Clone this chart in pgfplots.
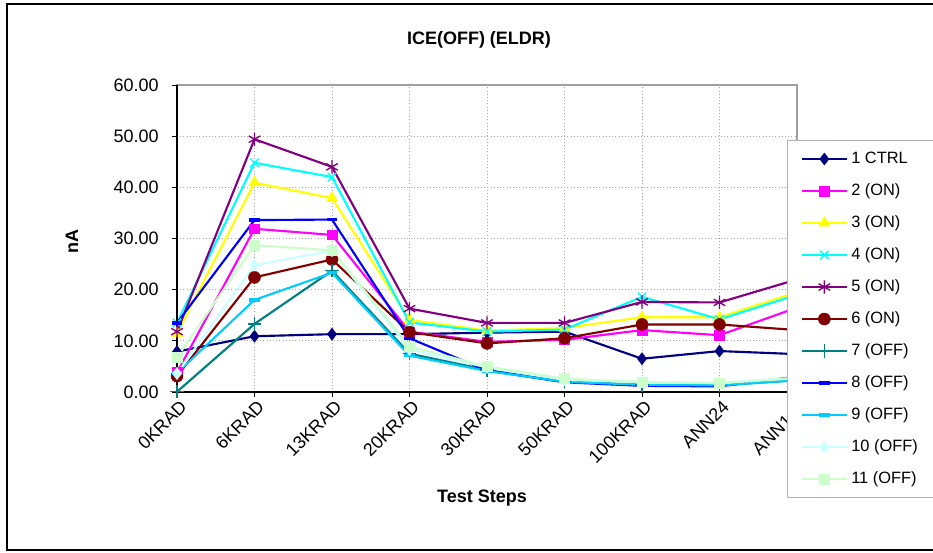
\documentclass[border=0pt]{standalone}
\usepackage{fontspec}
\setmainfont{Liberation Sans}
\usepackage{pgfplots}
\pgfplotsset{compat=1.18}

\definecolor{c1}{HTML}{000080}
\definecolor{c2}{HTML}{FF00FF}
\definecolor{c3}{HTML}{FFFF00}
\definecolor{c4}{HTML}{00FFFF}
\definecolor{c5}{HTML}{800080}
\definecolor{c6}{HTML}{800000}
\definecolor{c7}{HTML}{008080}
\definecolor{c8}{HTML}{0000FF}
\definecolor{c9}{HTML}{00CCFF}
\definecolor{c10}{HTML}{CCFFFF}
\definecolor{c11}{HTML}{CCFFCC}

\begin{document}
\begin{tikzpicture}[x=1pt,y=1pt]
\useasboundingbox (0,0) rectangle (699.75,414.75);
\fill[white] (0,0) rectangle (699.75,414.75);
\draw[line width=1.5pt] (5.25,1.9) rectangle (710,412.1);
\begin{axis}[
  at={(132.75pt,120.75pt)}, anchor=south west,
  scale only axis, width=465pt, height=230.25pt,
  xmin=0, xmax=8, ymin=0, ymax=60,
  xtick={0,...,8},
  xticklabels={0KRAD,6KRAD,13KRAD,20KRAD,30KRAD,50KRAD,100KRAD,ANN24,ANN168},
  ytick={0,10,...,60},
  clip=false,
  axis line style={draw=gray!75, line width=1.2pt},
  tick align=outside, tick pos=left,
  major tick length=3.75pt,
  tick style={black, line width=0.6pt},
  grid=major,
  major grid style={gray!70, dotted, line width=0.6pt},
  ticklabel style={font=\fontsize{13.5}{16}\selectfont},
  xticklabel style={rotate=45, anchor=north east, inner sep=1pt, xshift=1pt, yshift=-1pt},
  yticklabel style={xshift=-6.5pt, /pgf/number format/.cd, fixed, fixed zerofill, precision=2, assume math mode=true},
  every axis plot/.append style={line width=1.6pt},
  legend cell align=left,
  legend style={at={(0.984,0.821)}, anchor=north west, draw=gray!60, line width=0.6pt, fill=white,
    font=\fontsize{12.3}{14}\selectfont, row sep=10pt, inner xsep=10pt, inner ysep=7pt,
    nodes={text height=9pt, text depth=3pt, inner ysep=1pt, inner xsep=2.5pt}},
  legend image code/.code={\draw[mark repeat=2, mark phase=2] plot coordinates {(0pt,0pt) (16.875pt,0pt) (33.75pt,0pt)};},
]
\addplot[color=c1, mark=diamond*, mark size=4.5pt, mark options={fill=c1, line width=0.4pt}] coordinates {(0,7.9) (1,10.9) (2,11.3) (3,11.3) (4,11.6) (5,11.8) (6,6.5) (7,8.0) (8,7.4)};
\addlegendentry{1 CTRL}
\addplot[color=c2, mark=square*, mark size=3.6pt, mark options={fill=c2, line width=0.4pt}] coordinates {(0,3.8) (1,31.9) (2,30.7) (3,11.8) (4,9.8) (5,10.2) (6,12.1) (7,11.1) (8,16.5)};
\addlegendentry{2 (ON)}
\addplot[color=c3, mark=triangle*, mark size=4.8pt, mark options={fill=c3, line width=0.4pt}] coordinates {(0,11.5) (1,40.9) (2,37.9) (3,14.1) (4,12.0) (5,12.5) (6,14.6) (7,14.6) (8,19.5)};
\addlegendentry{3 (ON)}
\addplot[color=c4, mark=x, mark size=4.5pt, mark options={line width=1pt}] coordinates {(0,13.5) (1,44.8) (2,42.0) (3,13.6) (4,11.8) (5,12.2) (6,18.6) (7,14.2) (8,19.0)};
\addlegendentry{4 (ON)}
\addplot[color=c5, mark=asterisk, mark size=5pt, mark options={line width=1pt}] coordinates {(0,11.8) (1,49.4) (2,44.0) (3,16.3) (4,13.5) (5,13.5) (6,17.6) (7,17.5) (8,22.0)};
\addlegendentry{5 (ON)}
\addplot[color=c6, mark=*, mark size=4.5pt, mark options={fill=c6, line width=0.4pt}] coordinates {(0,3.1) (1,22.4) (2,25.9) (3,11.7) (4,9.5) (5,10.5) (6,13.2) (7,13.2) (8,12.1)};
\addlegendentry{6 (ON)}
\addplot[color=c7, mark=+, mark size=5pt, mark options={line width=1pt}] coordinates {(0,0.05) (1,13.3) (2,23.7) (3,7.5) (4,4.3) (5,2.0) (6,1.4) (7,1.3) (8,2.3)};
\addlegendentry{7 (OFF)}
\addplot[color=c8, mark=-, mark size=4pt, mark options={line width=2.5pt}] coordinates {(0,13.5) (1,33.6) (2,33.7) (3,10.5) (4,4.2) (5,1.9) (6,1.2) (7,1.1) (8,3.0)};
\addlegendentry{8 (OFF)}
\addplot[color=c9, mark=-, mark size=4pt, mark options={line width=2.5pt}] coordinates {(0,3.7) (1,18.0) (2,23.3) (3,7.1) (4,4.1) (5,2.0) (6,1.4) (7,1.3) (8,2.3)};
\addlegendentry{9 (OFF)}
\addplot[color=c10, mark=diamond*, mark size=4.5pt, mark options={fill=c10, line width=0.4pt}] coordinates {(0,3.6) (1,24.8) (2,27.6) (3,8.3) (4,4.8) (5,2.4) (6,2.0) (7,1.8) (8,2.8)};
\addlegendentry{10 (OFF)}
\addplot[color=c11, mark=square*, mark size=3.8pt, mark options={fill=c11, line width=0.4pt}] coordinates {(0,6.8) (1,28.7) (2,27.7) (3,8.9) (4,5.0) (5,2.6) (6,1.9) (7,1.7) (8,2.7)};
\addlegendentry{11 (OFF)}
\draw[black, line width=1pt] (rel axis cs:0,1) -- (rel axis cs:0,0) -- (rel axis cs:1,0);
\end{axis}
\node[font=\bfseries\fontsize{13.5}{16}\selectfont] at (359.25,384.75) {ICE(OFF) (ELDR)};
\node[font=\bfseries\fontsize{13.5}{16}\selectfont, rotate=90] at (54,233.25) {nA};
\node[font=\bfseries\fontsize{13.5}{16}\selectfont] at (361.5,41.25) {Test Steps};
\end{tikzpicture}
\end{document}
